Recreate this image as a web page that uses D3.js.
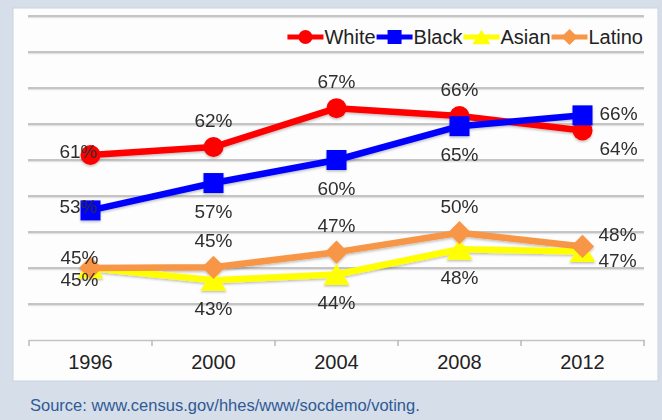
<!DOCTYPE html>
<html>
<head>
<meta charset="utf-8">
<script src="https://cdn.jsdelivr.net/npm/d3@7/dist/d3.min.js"></script>
<style>
  html, body { margin: 0; padding: 0; background: #d6dee9; }
  svg { display: block; }
  text { font-family: "Liberation Sans", Arial, sans-serif; }
</style>
</head>
<body>
<svg id="chart" width="662" height="420"></svg>
<script>
// Voter turnout by race / ethnicity, presidential elections
const years = ["1996", "2000", "2004", "2008", "2012"];
const seriesNames = ["White", "Black", "Asian", "Latino"];
const whiteValues  = [60.7, 61.8, 67.2, 66.1, 64.1];
const blackValues  = [53.0, 56.8, 60.0, 64.7, 66.2];
const asianValues  = [45.0, 43.3, 44.1, 47.6, 47.3];
const latinoValues = [45.0, 45.1, 47.2, 49.9, 48.0];
const gridTicks = [40, 45, 50, 55, 60, 65, 70, 75, 80];
const sourceNote = "Source: www.census.gov/hhes/www/socdemo/voting.";

// where each value label sits relative to its marker
const whiteSpots  = ["left", "above", "above", "above", "rightLow"];
const blackSpots  = ["left", "below", "below", "below", "right"];
const asianSpots  = ["leftBelow", "below", "below", "below", "rightBelow"];
const latinoSpots = ["leftAbove", "above", "above", "above", "rightAbove"];

const series = [
  { name: seriesNames[0], values: whiteValues,  spots: whiteSpots,  color: "#ff0000", shape: "circle" },
  { name: seriesNames[1], values: blackValues,  spots: blackSpots,  color: "#0000ff", shape: "square" },
  { name: seriesNames[2], values: asianValues,  spots: asianSpots,  color: "#ffff00", shape: "triangle" },
  { name: seriesNames[3], values: latinoValues, spots: latinoSpots, color: "#f79646", shape: "diamond" }
];

const svg = d3.select("#chart");

// white chart panel
svg.append("rect").attr("x", 13).attr("y", 8).attr("width", 645).attr("height", 373)
  .attr("fill", "#fdfdfd").attr("stroke", "#c9d3e0").attr("stroke-width", 1);

const plot = { left: 29, right: 644, top: 16, bottom: 340 };

const x = d3.scalePoint().domain(years).range([plot.left, plot.right]).padding(0.5);
const xBand = d3.scaleBand().domain(years).range([plot.left, plot.right]);
const y = d3.scaleLinear().domain([35, 80]).range([plot.bottom, plot.top]);

// horizontal gridlines
const grid = svg.append("g");
grid.selectAll("line.shade").data(gridTicks).join("line")
  .attr("x1", plot.left - 1).attr("x2", plot.right)
  .attr("y1", d => y(d) + 1.5).attr("y2", d => y(d) + 1.5)
  .attr("stroke", "#e2e2e2").attr("stroke-width", 1.5);
grid.selectAll("line.main").data(gridTicks).join("line")
  .attr("x1", plot.left - 1).attr("x2", plot.right)
  .attr("y1", d => y(d)).attr("y2", d => y(d))
  .attr("stroke", "#b2b2b2").attr("stroke-width", 1.6);

// category axis
const axis = svg.append("g").attr("transform", `translate(0,${plot.bottom})`)
  .call(d3.axisBottom(xBand).tickSize(0).tickPadding(15));
axis.select(".domain").attr("stroke", "#c4c4c4").attr("stroke-width", 1.5);
axis.selectAll(".tick text").attr("font-size", 20).attr("fill", "#222")
  .attr("font-family", "'Liberation Sans', Arial, sans-serif");
const tickXs = years.map(d => xBand(d)).concat([plot.right]);
svg.append("g").selectAll("line").data(tickXs).join("line")
  .attr("x1", d => d).attr("x2", d => d)
  .attr("y1", plot.bottom).attr("y2", plot.bottom + 6)
  .attr("stroke", "#b8b8b8").attr("stroke-width", 1.5);

// marker shapes, centred on (0,0)
function markerPath(shape, s) {
  const p = d3.path();
  if (shape === "circle") {
    p.arc(0, 0, s / 2, 0, 2 * Math.PI);
  } else if (shape === "square") {
    p.rect(-s / 2, -s / 2, s, s);
  } else if (shape === "triangle") {
    const w = s * 1.3, h = s * 1.05;
    p.moveTo(0, -h / 2); p.lineTo(w / 2, h / 2); p.lineTo(-w / 2, h / 2); p.closePath();
  } else {
    const r = s * 0.58;
    p.moveTo(0, -r); p.lineTo(r, 0); p.lineTo(0, r); p.lineTo(-r, 0); p.closePath();
  }
  return p.toString();
}

const defs = svg.append("defs");
const f = defs.append("filter").attr("id", "shadow").attr("x", "-20%").attr("y", "-20%")
  .attr("width", "140%").attr("height", "160%");
f.append("feDropShadow").attr("dx", 0).attr("dy", 1.5).attr("stdDeviation", 1.2)
  .attr("flood-color", "#000").attr("flood-opacity", 0.25);

const line = d3.line().x((d, i) => x(years[i])).y(d => y(d));

const marks = svg.append("g").attr("filter", "url(#shadow)");
series.forEach(s => {
  const g = marks.append("g");
  g.append("path").datum(s.values).attr("d", line)
    .attr("fill", "none").attr("stroke", s.color).attr("stroke-width", 6.5)
    .attr("stroke-linejoin", "round");
  g.selectAll("path.m").data(s.values).join("path").attr("class", "m")
    .attr("d", markerPath(s.shape, 20))
    .attr("transform", (d, i) => `translate(${x(years[i])},${y(d)})`)
    .attr("fill", s.color);
});

// value labels
const spotTable = {
  left:       { anchor: "middle", dx: -12, dy: -4 },
  leftAbove:  { anchor: "middle", dx: -11, dy: -11 },
  leftBelow:  { anchor: "middle", dx: -11, dy: 11 },
  above:      { anchor: "middle", dx: 0,   dy: -27 },
  below:      { anchor: "middle", dx: 0,   dy: 28 },
  right:      { anchor: "start",  dx: 17,  dy: -2 },
  rightAbove: { anchor: "start",  dx: 16,  dy: -12 },
  rightBelow: { anchor: "start",  dx: 16,  dy: 9 },
  rightLow:   { anchor: "start",  dx: 17,  dy: 18 }
};
const labelSize = 19;
const fmt = v => d3.format(".0f")(v) + "%";
const labels = svg.append("g");
series.forEach(s => {
  s.values.forEach((v, i) => {
    const spot = spotTable[s.spots[i]];
    labels.append("text")
      .attr("x", x(years[i]) + spot.dx)
      .attr("y", y(v) + spot.dy + labelSize * 0.36)
      .attr("text-anchor", spot.anchor)
      .attr("font-size", labelSize)
      .attr("fill", "#2e2e2e")
      .text(fmt(v));
  });
});

// legend, right-aligned above the plot
const legend = svg.append("g");
let lx = 0;
const legendY = 37;
const legendSize = 20;
series.forEach(s => {
  const item = legend.append("g").attr("transform", `translate(${lx},0)`);
  item.append("line").attr("x1", 0).attr("x2", 36).attr("y1", legendY).attr("y2", legendY)
    .attr("stroke", s.color).attr("stroke-width", 5);
  item.append("path").attr("d", markerPath(s.shape, 14))
    .attr("transform", `translate(18,${legendY})`).attr("fill", s.color);
  const t = item.append("text").attr("x", 37).attr("y", legendY + legendSize * 0.36)
    .attr("font-size", legendSize).attr("fill", "#222").text(s.name);
  lx += 37 + t.node().getComputedTextLength() + 1;
});
legend.attr("transform", `translate(${plot.right - lx},0)`);

// source note
svg.append("text").attr("x", 30).attr("y", 411)
  .attr("font-size", 16.5).attr("fill", "#2f5a96").text(sourceNote);
</script>
</body>
</html>
